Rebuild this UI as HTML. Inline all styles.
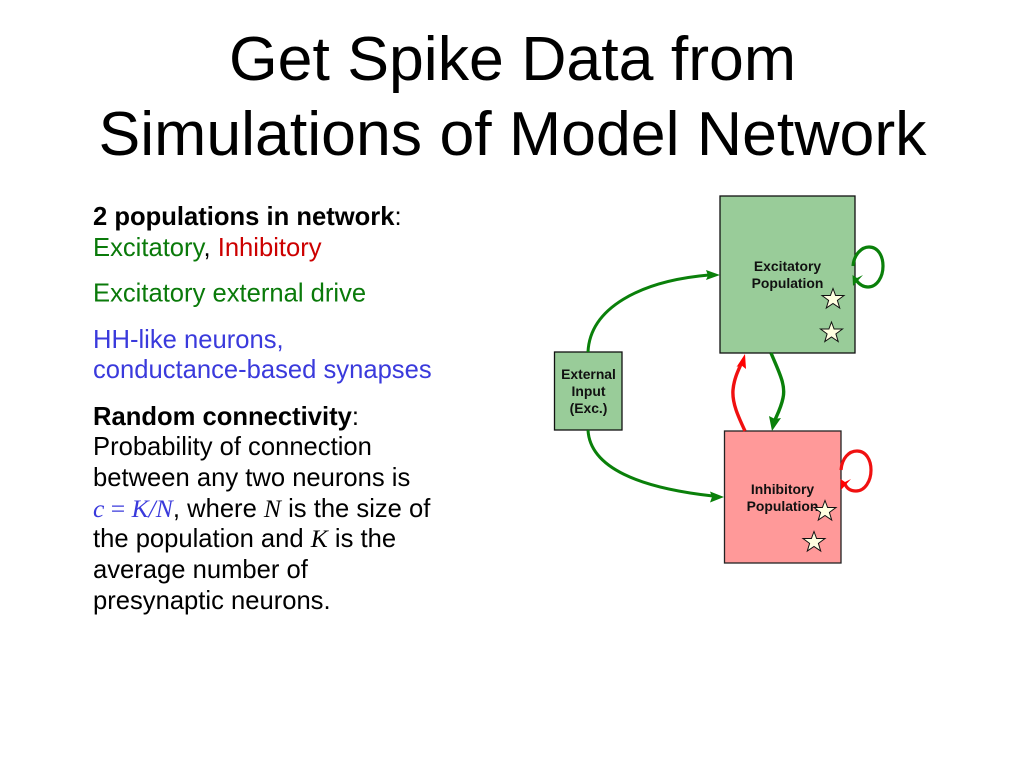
<!DOCTYPE html>
<html><head><meta charset="utf-8"><style>
html,body{margin:0;padding:0;background:#fff;width:1024px;height:768px;overflow:hidden}
svg{display:block}
text{font-family:"Liberation Sans",sans-serif}
.b{font-size:25.6px;fill:#000}
.l{font-size:13.9px;font-weight:bold;fill:#111;text-anchor:middle}
.i{font-family:"Liberation Serif",serif;font-style:italic}
.s{fill:#ffffe0;stroke:#111;stroke-width:1}
</style></head><body>
<svg width="1024" height="768" viewBox="0 0 1024 768" xmlns="http://www.w3.org/2000/svg">
<text x="512.500" y="80" font-size="62.6" text-anchor="middle">Get Spike Data from</text>
<text x="512.500" y="155" font-size="62.6" text-anchor="middle">Simulations of Model Network</text>

<text class="b" x="93" y="225"><tspan font-weight="bold">2 populations in network</tspan>:</text>
<text class="b" x="93" y="256"><tspan fill="#0a7a0a">Excitatory</tspan>, <tspan fill="#cc0000">Inhibitory</tspan></text>
<text class="b" x="93" y="301.500" style="fill:#0a7a0a">Excitatory external drive</text>
<text class="b" x="93" y="348" style="fill:#3a3adc">HH-like neurons,</text>
<text class="b" x="93" y="378" style="fill:#3a3adc">conductance-based synapses</text>
<text class="b" x="93" y="425"><tspan font-weight="bold">Random connectivity</tspan>:</text>
<text class="b" x="93" y="455">Probability of connection</text>
<text class="b" x="93" y="486">between any two neurons is</text>
<text class="b" x="93" y="517"><tspan class="i" fill="#3a3adc">c</tspan><tspan fill="#3a3adc" style="font-family:'Liberation Serif',serif"> = </tspan><tspan class="i" fill="#3a3adc">K/N</tspan>, where <tspan class="i">N</tspan> is the size of</text>
<text class="b" x="93" y="547">the population and <tspan class="i">K</tspan> is the</text>
<text class="b" x="93" y="578">average number of</text>
<text class="b" x="93" y="609">presynaptic neurons.</text>

<rect x="720" y="196" width="135" height="157" fill="#99cc99" stroke="#111" stroke-width="1.3"/>
<rect x="724.5" y="431" width="116.5" height="132" fill="#ff9999" stroke="#222" stroke-width="1.3"/>
<rect x="554.5" y="352" width="67.5" height="78" fill="#99cc99" stroke="#111" stroke-width="1.3"/>

<g fill="none" stroke-width="3">
<path d="M588,352 C590,308 640,281 709,275" stroke="#0a800a"/>
<path d="M588,430 C590,468 640,488 713,496" stroke="#0a800a"/>
<path d="M771,353 C779,372 786,385 783,398 C781,408 777,415 774,422" stroke="#0a800a" stroke-width="3.400"/>
<path d="M745,431 C738,416 732,403 733,390 C734,378 739,369 742,362" stroke="#f01010" stroke-width="3.400"/>
<path d="M853,266 C854,254 862,247 869,247 C878,247 883,256 883,266 C883,277 877,287 868,287 C863,287 859,284 856,280" stroke="#0a800a" stroke-width="3.200"/>
<path d="M841,470 C842,458 849,451 857,451 C866,451 871,460 871,470 C871,481 865,491 856,491 C851,491 847,489 845,484" stroke="#f01010" stroke-width="3.200"/>
</g>
<path d="M720,275 L706,270 L708,275.500 L706,280 Z" fill="#0a800a"/>
<path d="M724,497 L710,491.500 L712,497 L710,502.500 Z" fill="#0a800a"/>
<path d="M772,431 L769,416 L775,419 L781,418 Z" fill="#0a800a"/>
<path d="M745,354 L736.500,367 L741,365 L746,369 Z" fill="#ff0000"/>
<path d="M853,286 L852.500,275 L857,278 L863,275 Z" fill="#0a800a"/>
<path d="M841,490 L840.500,479 L845,482 L851,479 Z" fill="#ff0000"/>

<text class="l" x="787.500" y="271">Excitatory</text>
<text class="l" x="787.500" y="288">Population</text>
<text class="l" x="782.500" y="494">Inhibitory</text>
<text class="l" x="782.500" y="511">Population</text>
<text class="l" x="588.500" y="379">External</text>
<text class="l" x="588.500" y="396">Input</text>
<text class="l" x="588.500" y="413">(Exc.)</text>

<path class="s" transform="translate(833,299)" d="M0,-10.500 L2.600,-3.500 L11,-3.500 L4.400,1.400 L6.700,9 L0,4.500 L-6.700,9 L-4.400,1.400 L-11,-3.500 L-2.600,-3.500 Z"/>
<path class="s" transform="translate(831.500,332.500)" d="M0,-10.500 L2.600,-3.500 L11,-3.500 L4.400,1.400 L6.700,9 L0,4.500 L-6.700,9 L-4.400,1.400 L-11,-3.500 L-2.600,-3.500 Z"/>
<path class="s" transform="translate(825,511)" d="M0,-10.500 L2.600,-3.500 L11,-3.500 L4.400,1.400 L6.700,9 L0,4.500 L-6.700,9 L-4.400,1.400 L-11,-3.500 L-2.600,-3.500 Z"/>
<path class="s" transform="translate(814,542)" d="M0,-10.500 L2.600,-3.500 L11,-3.500 L4.400,1.400 L6.700,9 L0,4.500 L-6.700,9 L-4.400,1.400 L-11,-3.500 L-2.600,-3.500 Z"/>
</svg>
</body></html>
